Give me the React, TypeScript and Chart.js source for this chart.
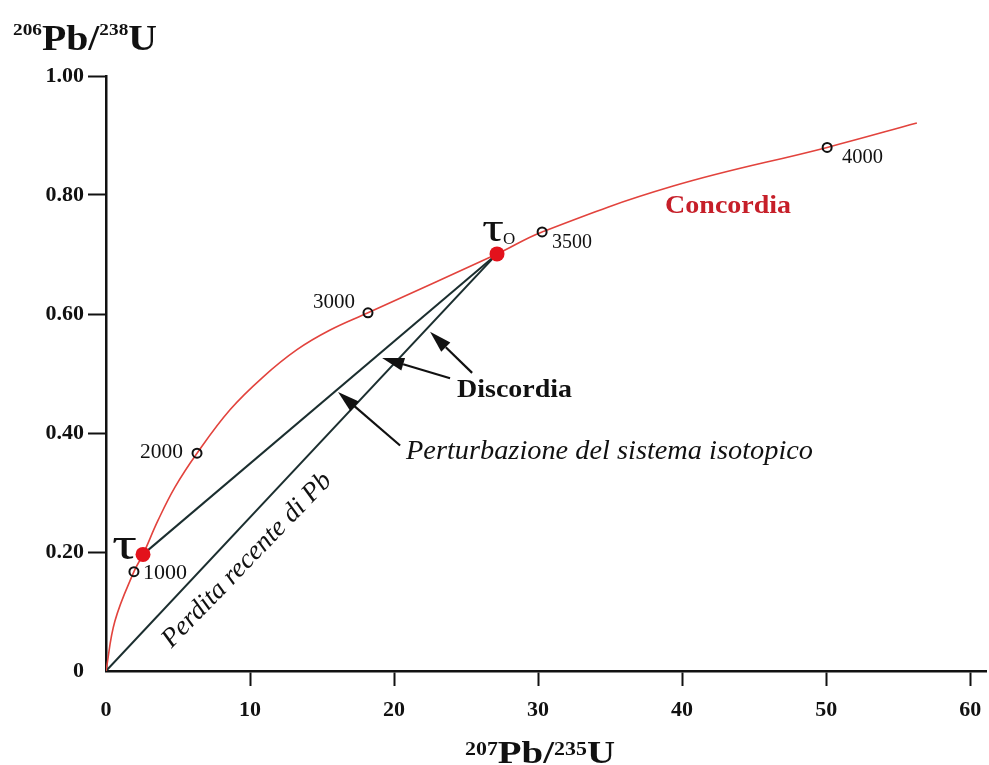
import React, { useEffect, useRef } from "react";
import { Chart, registerables } from "chart.js";

Chart.register(...registerables);

// ---------- data ----------
// Concordia curve: 207Pb/235U (x) vs 206Pb/238U (y)
const concordiaX = [0, 0.62, 1.94, 2.57, 3.61, 4.79, 6.32, 8.61, 10.9, 13.26, 15.56, 18.19, 27.15, 30.28, 39.38, 50.07, 56.3];
const concordiaY = [0, 0.084, 0.167, 0.196, 0.253, 0.309, 0.366, 0.439, 0.494, 0.54, 0.573, 0.602, 0.701, 0.738, 0.815, 0.88, 0.921];

// Age markers on the concordia (Ma)
const ageLabels = ["1000", "2000", "3000", "3500", "4000"];
const ageX = [1.94, 6.32, 18.19, 30.28, 50.07];
const ageY = [0.167, 0.366, 0.602, 0.738, 0.88];

// tau and tau0 points
const tauX = [2.57, 27.15];
const tauY = [0.196, 0.701];

// Discordia lines
const discordiaUpperX = [2.57, 27.15];
const discordiaUpperY = [0.196, 0.701];
const discordiaLowerX = [0, 27.15];
const discordiaLowerY = [0, 0.701];

// Arrows: tail -> tip (data units)
const arrowTailX = [25.42, 23.89, 20.42];
const arrowTailY = [0.501, 0.492, 0.379];
const arrowTipX = [22.5, 19.17, 16.11];
const arrowTipY = [0.57, 0.526, 0.469];

// Axis ticks
const xTickValues = [0, 10, 20, 30, 40, 50, 60];
const yTickValues = [0, 0.2, 0.4, 0.6, 0.8, 1.0];

const SERIF = "'Liberation Serif', 'Times New Roman', serif";

type Ann = {
  text: string;
  x: number;
  y: number;
  font: string;
  color: string;
  align: CanvasTextAlign;
  baseline?: CanvasTextBaseline;
  w?: number;
  angle?: number;
};

const annotations: Ann[] = [
  { text: "Concordia", x: 38.82, y: 0.781, font: `bold 25px ${SERIF}`, color: "#c61f29", align: "left", w: 126 },
  { text: "Discordia", x: 24.375, y: 0.472, font: `bold 25px ${SERIF}`, color: "#111", align: "left", w: 115 },
  { text: "Perturbazione del sistema isotopico", x: 20.83, y: 0.368, font: `italic 27px ${SERIF}`, color: "#111", align: "left", w: 407 },
  { text: "Perdita recente di Pb", x: 9.79, y: 0.186, font: `italic 27px ${SERIF}`, color: "#111", align: "center", w: 232, angle: -46 },
  { text: ageLabels[4], x: 51.1, y: 0.863, font: `20px ${SERIF}`, color: "#111", align: "left", w: 41 },
  { text: ageLabels[3], x: 30.97, y: 0.72, font: `20px ${SERIF}`, color: "#111", align: "left", w: 40 },
  { text: ageLabels[2], x: 17.29, y: 0.619, font: `20px ${SERIF}`, color: "#111", align: "right", w: 42 },
  { text: ageLabels[1], x: 5.35, y: 0.366, font: `20px ${SERIF}`, color: "#111", align: "right", w: 43 },
  { text: ageLabels[0], x: 2.57, y: 0.164, font: `20px ${SERIF}`, color: "#111", align: "left", w: 44 },
  { text: "τ", x: 0.42, y: 0.189, font: `46px ${SERIF}`, color: "#111", align: "left", baseline: "alphabetic", w: 25 },
  { text: "τ", x: 26.1, y: 0.722, font: `40px ${SERIF}`, color: "#111", align: "left", baseline: "alphabetic", w: 22 },
  { text: "O", x: 27.57, y: 0.717, font: `17px ${SERIF}`, color: "#111", align: "left", baseline: "alphabetic" },
];

type Seg = { t: string; size: number; rise: number };
const yTitleSegs: Seg[] = [
  { t: "206", size: 17, rise: 15 },
  { t: "Pb/", size: 35, rise: 0 },
  { t: "238", size: 17, rise: 15 },
  { t: "U", size: 35, rise: 0 },
];
const xTitleSegs: Seg[] = [
  { t: "207", size: 18, rise: 8 },
  { t: "Pb/", size: 32, rise: 0 },
  { t: "235", size: 18, rise: 8 },
  { t: "U", size: 32, rise: 0 },
];

function drawRich(ctx: CanvasRenderingContext2D, segs: Seg[], x: number, baseline: number, targetW: number, align: "left" | "center") {
  ctx.save();
  let total = 0;
  const widths = segs.map((s) => {
    ctx.font = `bold ${s.size}px ${SERIF}`;
    const w = ctx.measureText(s.t).width;
    total += w;
    return w;
  });
  const sx = targetW / total;
  const startX = align === "center" ? x - targetW / 2 : x;
  ctx.translate(startX, baseline);
  ctx.scale(sx, 1);
  ctx.fillStyle = "#111";
  ctx.textAlign = "left";
  ctx.textBaseline = "alphabetic";
  let cx = 0;
  segs.forEach((s, i) => {
    ctx.font = `bold ${s.size}px ${SERIF}`;
    ctx.fillText(s.t, cx, -s.rise);
    cx += widths[i];
  });
  ctx.restore();
}

const annotationPlugin = {
  id: "annotationPlugin",
  afterDraw(chart: any) {
    const ctx: CanvasRenderingContext2D = chart.ctx;
    const xs = chart.scales.x;
    const ys = chart.scales.y;

    // arrows
    ctx.save();
    ctx.strokeStyle = "#111";
    ctx.fillStyle = "#111";
    ctx.lineWidth = 2.2;
    for (let i = 0; i < arrowTipX.length; i++) {
      const x0 = xs.getPixelForValue(arrowTailX[i]);
      const y0 = ys.getPixelForValue(arrowTailY[i]);
      const x1 = xs.getPixelForValue(arrowTipX[i]);
      const y1 = ys.getPixelForValue(arrowTipY[i]);
      const ang = Math.atan2(y1 - y0, x1 - x0);
      const headLen = 22;
      const headHalf = 6.5;
      const bx = x1 - headLen * Math.cos(ang);
      const by = y1 - headLen * Math.sin(ang);
      ctx.beginPath();
      ctx.moveTo(x0, y0);
      ctx.lineTo(bx, by);
      ctx.stroke();
      ctx.beginPath();
      ctx.moveTo(x1, y1);
      ctx.lineTo(bx + headHalf * Math.sin(ang), by - headHalf * Math.cos(ang));
      ctx.lineTo(bx - headHalf * Math.sin(ang), by + headHalf * Math.cos(ang));
      ctx.closePath();
      ctx.fill();
    }
    ctx.restore();

    // texts
    annotations.forEach((a) => {
      const px = xs.getPixelForValue(a.x);
      const py = ys.getPixelForValue(a.y);
      ctx.save();
      ctx.translate(px, py);
      if (a.angle) ctx.rotate((a.angle * Math.PI) / 180);
      ctx.font = a.font;
      ctx.fillStyle = a.color;
      ctx.textAlign = a.align;
      ctx.textBaseline = a.baseline || "middle";
      if (a.w) {
        const w = ctx.measureText(a.text).width;
        ctx.scale(a.w / w, 1);
      }
      ctx.fillText(a.text, 0, 0);
      ctx.restore();
    });

    // axis titles
    drawRich(ctx, yTitleSegs, 13, 50, 144, "left");
    drawRich(ctx, xTitleSegs, 540, 763, 150, "center");
  },
};

export default function App() {
  const canvasRef = useRef<HTMLCanvasElement | null>(null);

  useEffect(() => {
    if (!canvasRef.current) return;
    const pts = (xa: number[], ya: number[]) => xa.map((x, i) => ({ x, y: ya[i] }));
    const hideZero = (c: any) => (c.tick && c.tick.value === 0 ? "rgba(0,0,0,0)" : "#111");

    const chart = new Chart(canvasRef.current, {
      type: "scatter",
      data: {
        datasets: [
          {
            label: "tau",
            data: pts(tauX, tauY),
            showLine: false,
            pointRadius: 7.5,
            pointBackgroundColor: "#e3121c",
            pointBorderColor: "#e3121c",
            pointBorderWidth: 0,
            clip: false,
          } as any,
          {
            label: "ages",
            data: pts(ageX, ageY),
            showLine: false,
            pointRadius: 4.5,
            pointBackgroundColor: "rgba(0,0,0,0)",
            pointBorderColor: "#111",
            pointBorderWidth: 2,
            clip: false,
          } as any,
          {
            label: "Concordia",
            data: pts(concordiaX, concordiaY),
            showLine: true,
            borderColor: "#e2433d",
            borderWidth: 1.6,
            pointRadius: 0,
            tension: 0.4,
          } as any,
          {
            label: "Discordia 1",
            data: pts(discordiaUpperX, discordiaUpperY),
            showLine: true,
            borderColor: "#1b2e2f",
            borderWidth: 2,
            pointRadius: 0,
          },
          {
            label: "Discordia 2",
            data: pts(discordiaLowerX, discordiaLowerY),
            showLine: true,
            borderColor: "#1b2e2f",
            borderWidth: 2,
            pointRadius: 0,
          },
        ],
      },
      options: {
        animation: false,
        responsive: true,
        maintainAspectRatio: false,
        layout: { autoPadding: false, padding: { top: 76, right: 3, left: 0, bottom: 0 } },
        plugins: { legend: { display: false }, tooltip: { enabled: false } },
        scales: {
          x: {
            type: "linear",
            min: 0,
            max: 61.1,
            afterFit: (s: any) => {
              s.height = 94;
              s.paddingLeft = 0;
              s.paddingRight = 0;
            },
            afterBuildTicks: (s: any) => {
              s.ticks = xTickValues.map((v) => ({ value: v }));
            },
            ticks: {
              color: "#111",
              font: { family: SERIF, size: 22, weight: "bold" },
              padding: 11,
              maxRotation: 0,
              callback: (v: any) => String(v),
            },
            grid: {
              drawOnChartArea: false,
              drawTicks: true,
              tickLength: 15,
              tickWidth: 2,
              tickColor: hideZero,
            },
            border: { display: true, color: "#111", width: 2.5 },
          },
          y: {
            type: "linear",
            min: 0,
            max: 1,
            afterFit: (s: any) => {
              s.width = 106;
              s.paddingTop = 0;
              s.paddingBottom = 0;
            },
            afterBuildTicks: (s: any) => {
              s.ticks = yTickValues.map((v) => ({ value: v }));
            },
            ticks: {
              color: "#111",
              font: { family: SERIF, size: 22, weight: "bold" },
              padding: 4,
              callback: (v: any) => (Number(v) === 0 ? "0" : Number(v).toFixed(2)),
            },
            grid: {
              drawOnChartArea: false,
              drawTicks: true,
              tickLength: 18,
              tickWidth: 2,
              tickColor: hideZero,
            },
            border: { display: true, color: "#111", width: 2.5 },
          },
        },
      },
      plugins: [annotationPlugin],
    });
    return () => chart.destroy();
  }, []);

  return (
    <div style={{ position: "fixed", left: 0, top: 0, width: 989, height: 765, background: "#fff" }}>
      <canvas ref={canvasRef} />
    </div>
  );
}
